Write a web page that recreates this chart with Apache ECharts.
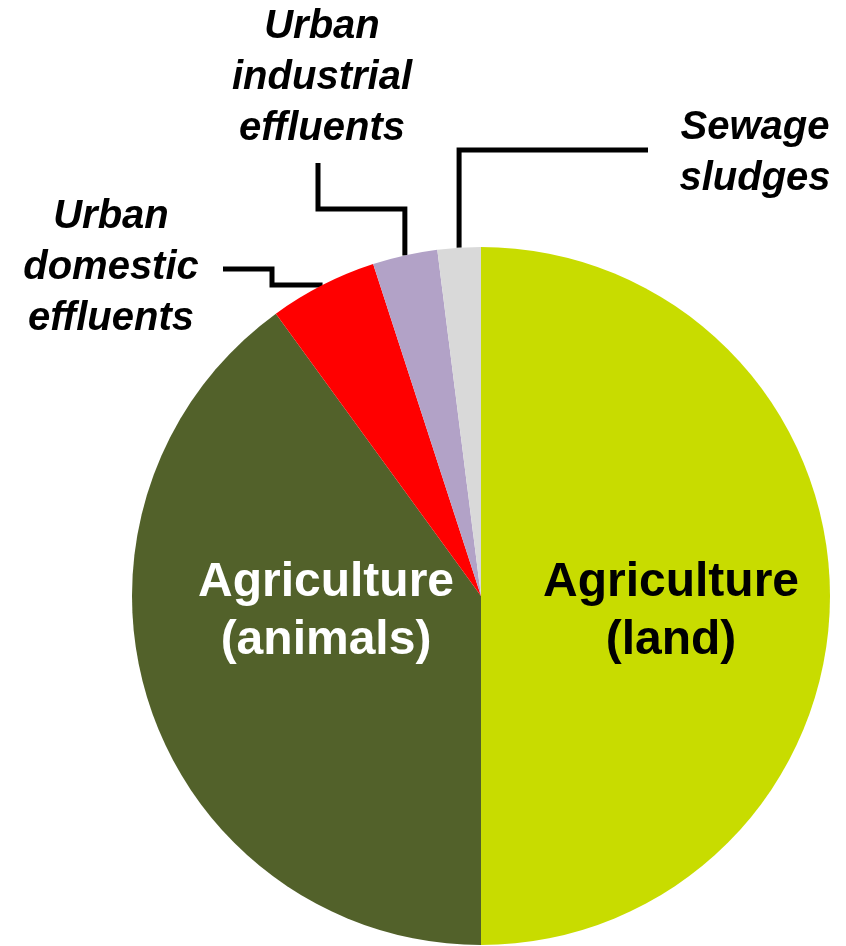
<!DOCTYPE html>
<html>
<head>
<meta charset="utf-8">
<script src="https://cdn.jsdelivr.net/npm/echarts@6/dist/echarts.min.js"></script>
<style>
  html, body { margin: 0; padding: 0; background: #ffffff; }
  #chart { width: 846px; height: 946px; }
</style>
</head>
<body>
<div id="chart"></div>
<script>
// ---- data ----
const categories = ['Agriculture (land)', 'Agriculture (animals)', 'Urban domestic effluents', 'Urban industrial effluents', 'Sewage sludges'];
const labelTexts = ['Agriculture\n(land)', 'Agriculture\n(animals)', 'Urban\ndomestic\neffluents', 'Urban\nindustrial\neffluents', 'Sewage\nsludges'];
const values = [50, 40, 5, 3, 2];

// ---- styles ----
const colors = ['#c8dc00', '#52612a', '#ff0000', '#b2a2c7', '#d9d9d9'];
const insideFlags = [true, true, false, false, false];
const insideTextColors = ['#000000', '#ffffff'];

// label anchor positions (layout only)
const labelAnchors = [
  { x: 671, y: 612 },
  { x: 326, y: 612 },
  { x: 111, y: 268 },
  { x: 322, y: 78 },
  { x: 755, y: 153 }
];

const chart = echarts.init(document.getElementById('chart'), null, { renderer: 'canvas' });

const seriesData = categories.map((name, i) => {
  const inside = insideFlags[i];
  return {
    name: name,
    value: values[i],
    itemStyle: { color: colors[i] },
    label: inside ? {
      show: true,
      position: 'inside',
      formatter: labelTexts[i],
      color: insideTextColors[i],
      fontFamily: 'Liberation Sans, Arial, sans-serif',
      fontWeight: 'bold',
      fontSize: 48,
      lineHeight: 58,
      align: 'center'
    } : {
      show: true,
      position: 'outside',
      formatter: labelTexts[i],
      color: '#000000',
      fontFamily: 'Liberation Sans, Arial, sans-serif',
      fontWeight: 'bold',
      fontStyle: 'italic',
      fontSize: 40,
      lineHeight: 51,
      align: 'center'
    },
    labelLine: inside ? { show: false } : {
      show: true,
      lineStyle: { color: '#000000', width: 5, cap: 'butt', join: 'miter' }
    }
  };
});

chart.setOption({
  animation: false,
  backgroundColor: '#ffffff',
  series: [{
    type: 'pie',
    center: [481, 596],
    radius: [0, 349],
    startAngle: 90,
    clockwise: true,
    avoidLabelOverlap: false,
    itemStyle: { borderWidth: 0 },
    emphasis: { disabled: true },
    data: seriesData,
    labelLayout: function (params) {
      const i = params.dataIndex;
      const a = labelAnchors[i];
      const out = { x: a.x, y: a.y, align: 'center', verticalAlign: 'middle', hideOverlap: false, moveOverlap: null };
      const pts = params.labelLinePoints;
      if (!insideFlags[i] && pts && pts.length) {
        const p0 = pts[0];
        if (i === 4) {
          out.labelLinePoints = [[p0[0], p0[1]], [p0[0], 150], [648, 150]];
        } else if (i === 3) {
          out.labelLinePoints = [[p0[0], p0[1]], [p0[0], 209], [318, 209], [318, 163]];
        } else if (i === 2) {
          out.labelLinePoints = [[p0[0], p0[1]], [272, p0[1]], [272, 269], [223, 269]];
        }
      }
      return out;
    }
  }]
});
</script>
</body>
</html>
